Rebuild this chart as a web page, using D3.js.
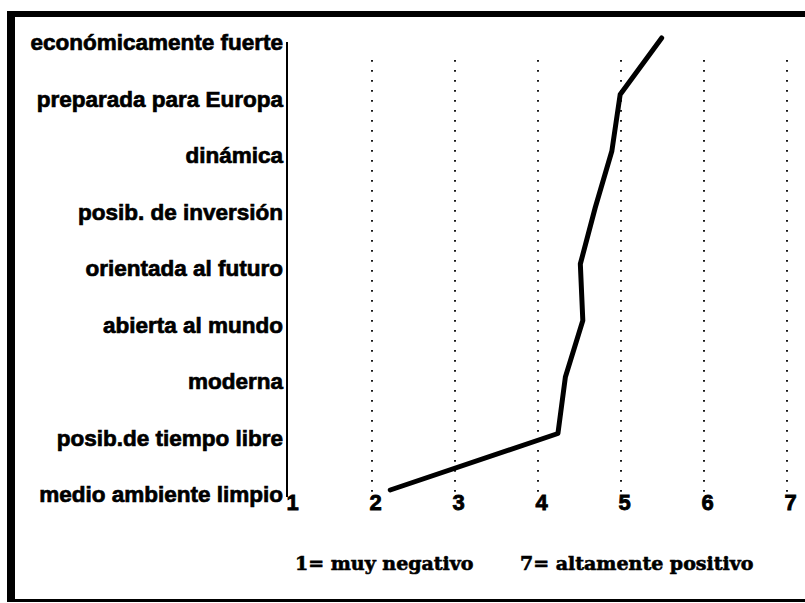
<!DOCTYPE html>
<html>
<head>
<meta charset="utf-8">
<script src="https://cdn.jsdelivr.net/npm/d3@7"></script>
<style>
  body { margin: 0; background: #fff; }
  svg { display: block; }
</style>
</head>
<body>
<div id="chart"></div>
<script>
// image attributes, top to bottom
const categories = [
    "económicamente fuerte",
    "preparada para Europa",
    "dinámica",
    "posib. de inversión",
    "orientada al futuro",
    "abierta al mundo",
    "moderna",
    "posib.de tiempo libre",
    "medio ambiente limpio"
];

// mean rating for each attribute (1..7)
const ratings = [5.49, 4.99, 4.89, 4.69, 4.51, 4.54, 4.33, 4.24, 2.22];

const xTicks = [1, 2, 3, 4, 5, 6, 7];
const gridValues = [2, 3, 4, 5, 6, 7];
const scaleNotes = ["1= muy negativo", "7= altamente positivo"];

const width = 805, height = 603;

const svg = d3.select("#chart").append("svg")
    .attr("width", width)
    .attr("height", height);

svg.append("rect")
    .attr("width", width)
    .attr("height", height)
    .attr("fill", "#fff");

// frame: heavy left + top, thin bottom (no right edge)
svg.append("rect").attr("x", 7).attr("y", 11).attr("width", 8).attr("height", 591).attr("fill", "#000");
svg.append("rect").attr("x", 7).attr("y", 11).attr("width", 798).attr("height", 6).attr("fill", "#000");
svg.append("rect").attr("x", 7).attr("y", 599).attr("width", 798).attr("height", 3).attr("fill", "#000");

// scales
const x = d3.scaleLinear().domain([1, 7]).range([289, 787]);
const y = d3.scalePoint().domain(categories).range([38, 490]);

// dotted vertical grid
svg.append("g")
    .selectAll("line")
    .data(gridValues)
    .join("line")
    .attr("x1", d => x(d))
    .attr("x2", d => x(d))
    .attr("y1", 60)
    .attr("y2", 492)
    .attr("stroke", "#000")
    .attr("stroke-width", 1.8)
    .attr("stroke-dasharray", "1.8,8.2");

// y axis line
svg.append("line")
    .attr("x1", 287).attr("x2", 287)
    .attr("y1", 42).attr("y2", 497)
    .attr("stroke", "#000")
    .attr("stroke-width", 2);

// category labels (stroked a little to get the heavy print look)
svg.append("g")
    .selectAll("text")
    .data(categories)
    .join("text")
    .attr("x", 283)
    .attr("y", d => y(d) + 12)
    .attr("text-anchor", "end")
    .attr("stroke", "#000")
    .attr("stroke-width", 0.7)
    .style("font-family", "'Liberation Sans', Arial, sans-serif")
    .style("font-weight", "bold")
    .style("font-size", "22.5px")
    .text(d => d);

// x tick labels
const xAxis = d3.axisBottom(x).tickValues(xTicks).tickSize(0).tickPadding(0).tickFormat(d3.format("d"));
const gx = svg.append("g")
    .attr("transform", "translate(3,494)")
    .call(xAxis);
gx.select(".domain").remove();
gx.selectAll("text")
    .attr("fill", "#000")
    .attr("stroke", "#000")
    .attr("stroke-width", 0.8)
    .style("font-family", "'Liberation Sans', Arial, sans-serif")
    .style("font-weight", "bold")
    .style("font-size", "22px");

// profile line
const line = d3.line()
    .x(d => x(d))
    .y((d, i) => y(categories[i]));

svg.append("path")
    .datum(ratings)
    .attr("fill", "none")
    .attr("stroke", "#000")
    .attr("stroke-width", 5)
    .attr("stroke-linejoin", "round")
    .attr("stroke-linecap", "round")
    .attr("d", line);

// scale notes under the axis
svg.append("g")
    .selectAll("text")
    .data(scaleNotes)
    .join("text")
    .attr("x", (d, i) => i === 0 ? 295 : 520)
    .attr("y", 570)
    .attr("stroke", "#000")
    .attr("stroke-width", 0.6)
    .style("font-family", "'DejaVu Serif', serif")
    .style("font-weight", "bold")
    .style("font-size", "19px")
    .text(d => d);
</script>
</body>
</html>
